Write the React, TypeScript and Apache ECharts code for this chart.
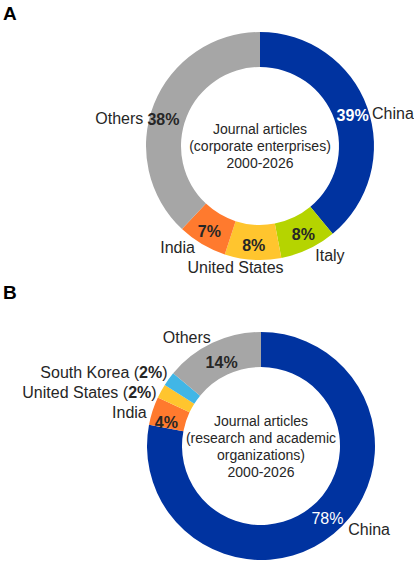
import React, { useEffect, useRef } from 'react';
import * as echarts from 'echarts';

// panel A: corporate enterprises
const aNames = ['China', 'Italy', 'United States', 'India', 'Others'];
const aValues = [39, 8, 8, 7, 38];
// panel B: research and academic organizations
const bNames = ['China', 'India', 'United States', 'South Korea', 'Others'];
const bValues = [78, 4, 2, 2, 14];

const aTitle = 'Journal articles\n(corporate enterprises)\n2000-2026';
const bTitle = 'Journal articles\n(research and academic\norganizations)\n2000-2026';

const colors: Record<string, string> = {
  China: '#0033A0',
  Italy: '#B5D400',
  'United States': '#FFC52E',
  India: '#FF7A2E',
  'South Korea': '#41B6E6',
  Others: '#A6A6A6',
};

// small nudges of the name labels (dx, dy)
const aNudge: Record<string, [number, number]> = {
  China: [-4, 7],
  Italy: [0, 3],
  'United States': [36, 4],
  India: [0, 0],
  Others: [-2, 16],
};
const bNudge: Record<string, [number, number]> = {
  China: [7, -7],
  India: [3, 3],
  'United States': [4, 3],
  'South Korea': [7, -4],
  Others: [5, -2],
};
// nudges of the percentage labels
const aPctNudge: Record<string, [number, number]> = {
  China: [-1, 3],
  Italy: [1, -2],
  Others: [-4, 10],
};
const bPctNudge: Record<string, [number, number]> = {
  China: [3, -4],
  India: [0, 7],
  Others: [3, 7],
};

const FONT = '"Liberation Sans", Arial, sans-serif';
const TEXT = '#262626';

const App: React.FC = () => {
  const chartRef = useRef<HTMLDivElement>(null);

  useEffect(() => {
    if (!chartRef.current) return;
    const chart = echarts.init(chartRef.current, undefined, { renderer: 'svg' });

    const pctData = (names: string[], values: number[], panel: 'A' | 'B') =>
      names.map((name, i) => {
        const hide = panel === 'B' && (name === 'United States' || name === 'South Korea');
        const isChina = name === 'China';
        return {
          name,
          value: values[i],
          itemStyle: { color: colors[name] },
          label: {
            show: !hide,
            color: isChina ? '#ffffff' : TEXT,
            fontWeight: isChina && panel === 'B' ? 'normal' : 'bold',
          },
        };
      });

    const nameData = (names: string[], values: number[]) =>
      names.map((name, i) => ({ name, value: values[i] }));

    const ring = (center: [number, number]) => ({
      type: 'pie',
      center,
      radius: [79, 114],
      startAngle: 90,
      clockwise: true,
      avoidLabelOverlap: false,
    });

    const pctSeries = (
      center: [number, number],
      names: string[],
      values: number[],
      nudge: Record<string, [number, number]>,
      panel: 'A' | 'B'
    ) => ({
      ...ring(center),
      label: {
        show: true,
        position: 'inside',
        formatter: '{c}%',
        fontFamily: FONT,
        fontSize: 16,
      },
      labelLine: { show: false },
      labelLayout: (params: any) => {
        const [dx, dy] = nudge[names[params.dataIndex]] || [0, 0];
        return { dx, dy };
      },
      data: pctData(names, values, panel),
    });

    const nameSeries = (
      center: [number, number],
      names: string[],
      values: number[],
      nudge: Record<string, [number, number]>,
      panel: 'A' | 'B'
    ) => ({
      ...ring(center),
      silent: true,
      itemStyle: { color: 'rgba(0,0,0,0)' },
      label: {
        show: true,
        position: 'outside',
        fontFamily: FONT,
        fontSize: 16,
        color: TEXT,
        formatter: (p: any) => {
          if (panel === 'B' && (p.name === 'United States' || p.name === 'South Korea')) {
            return `{n|${p.name} (}{p|${p.value}%}{n|)}`;
          }
          return `{n|${p.name}}`;
        },
        rich: {
          n: { fontFamily: FONT, fontSize: 16, color: TEXT },
          p: { fontFamily: FONT, fontSize: 16, color: TEXT, fontWeight: 'bold' },
        },
      },
      labelLine: { show: false, length: 4, length2: 0 },
      labelLayout: (params: any) => {
        const [dx, dy] = nudge[names[params.dataIndex]] || [0, 0];
        return { dx, dy };
      },
      data: nameData(names, values),
    });

    const centerA: [number, number] = [260, 146];
    const centerB: [number, number] = [261, 446];

    chart.setOption({
      animation: false,
      backgroundColor: '#ffffff',
      graphic: [
        {
          type: 'text',
          left: 3,
          top: 4,
          style: { text: 'A', font: `bold 19px ${FONT}`, fill: '#000000' },
        },
        {
          type: 'text',
          left: 3,
          top: 283,
          style: { text: 'B', font: `bold 19px ${FONT}`, fill: '#000000' },
        },
        {
          type: 'text',
          x: centerA[0],
          y: centerA[1],
          style: {
            text: aTitle,
            font: `14px ${FONT}`,
            fill: TEXT,
            align: 'center',
            verticalAlign: 'middle',
            lineHeight: 17,
          },
        },
        {
          type: 'text',
          x: centerB[0],
          y: centerB[1],
          style: {
            text: bTitle,
            font: `14px ${FONT}`,
            fill: TEXT,
            align: 'center',
            verticalAlign: 'middle',
            lineHeight: 17,
          },
        },
      ],
      series: [
        pctSeries(centerA, aNames, aValues, aPctNudge, 'A'),
        nameSeries(centerA, aNames, aValues, aNudge, 'A'),
        pctSeries(centerB, bNames, bValues, bPctNudge, 'B'),
        nameSeries(centerB, bNames, bValues, bNudge, 'B'),
      ],
    });

    return () => {
      chart.dispose();
    };
  }, []);

  return (
    <div
      ref={chartRef}
      style={{ position: 'fixed', left: 0, top: 0, width: '414px', height: '576px' }}
    />
  );
};

export default App;
